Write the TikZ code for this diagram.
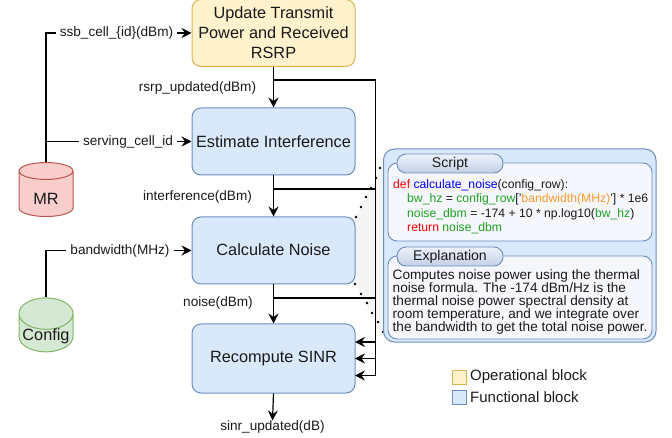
\documentclass[tikz,border=0pt]{standalone}
\usepackage{fontspec}
\setmainfont{Liberation Sans}
\usetikzlibrary{shapes.geometric,arrows.meta,calc}
\definecolor{opf}{HTML}{FFF2CC}\definecolor{opd}{HTML}{D6B656}
\definecolor{fnf}{HTML}{DAE8FC}\definecolor{fnd}{HTML}{6C8EBF}
\definecolor{codegreen}{HTML}{1FA01F}\definecolor{codeorange}{HTML}{FF9A2E}
\definecolor{innerf}{HTML}{F5F7FD}
\definecolor{txt}{HTML}{1A1A1A}
\definecolor{tabtop}{HTML}{EEF2FA}\definecolor{tabbot}{HTML}{C4CFE6}
\definecolor{mrf}{HTML}{F8CECC}\definecolor{mrd}{HTML}{B85450}
\definecolor{cff}{HTML}{D5E8D4}\definecolor{cfd}{HTML}{82B366}
\tikzset{
 x=1pt,y=-1pt,
 every node/.style={text=txt},
 block/.style={draw,rounded corners=9pt,line width=1pt,minimum width=163pt,minimum height=67pt,align=center,inner sep=0pt,font=\fontsize{16.3}{20}\selectfont},
 opblock/.style={block,fill=opf,draw=opd},
 fnblock/.style={block,fill=fnf,draw=fnd},
 store/.style={cylinder,shape border rotate=90,aspect=.667,draw,line width=1pt,minimum width=54pt,minimum height=54pt,inner sep=0pt,font=\fontsize{16.3}{18}\selectfont},
 lab/.style={font=\fontsize{13.6}{15}\selectfont,inner sep=0pt,inner xsep=4pt},
 flow/.style={line width=1.2pt,draw=black,-{Stealth[length=10pt,width=10pt,inset=3.5pt]}},
 wire/.style={line width=1.2pt,draw=black},
 panelbox/.style={draw=fnd,fill=fnf,line width=1pt,rounded corners=11pt},
 innerbox/.style={draw=fnd,fill=innerf,line width=.9pt,rounded corners=9pt},
 tabbox/.style={draw=fnd,line width=.9pt,rounded corners=9pt,top color=tabtop,bottom color=tabbot,align=center,font=\fontsize{14.1}{16}\selectfont},
 legendbox/.style={line width=1pt,minimum size=14pt,inner sep=0pt},
 legendtext/.style={anchor=west,inner sep=0pt,font=\fontsize{15}{17}\selectfont},
 bodytext/.style={anchor=north west,align=left,inner sep=0pt},
}
\begin{document}
\begin{tikzpicture}
\useasboundingbox (0,0) rectangle (672,438);
% callout wedge
\fill[black!4] (355,217) -- (383,165) -- (384,335) -- (355,284) -- cycle;
% blocks
\node[opblock] (update) at (273.5,33) {Update Transmit\\Power and Received\\RSRP};
\node[fnblock] (est) at (273.5,141.5) {Estimate Interference};
\node[fnblock] (noise) at (273.5,250.5) {\raisebox{1pt}{Calculate Noise}};
\node[fnblock,minimum height=69pt] (sinr) at (273.5,358.5) {Recompute SINR};
% stores
\node[store,fill=mrf,draw=mrd] (mr) at (46,194) {\smash{\raisebox{-11pt}{MR}}};
\node[store,fill=cff,draw=cfd] (config) at (46,333) {\smash{\raisebox{-8pt}{Config}}};
% labels
\node[lab] (ssb) at (116.5,33) {ssb\_cell\_\{id\}(dBm)};
\node[lab] (serv) at (128,141.5) {serving\_cell\_id};
\node[lab] (bw) at (120,250.5) {bandwidth(MHz)};
\node[lab] (rsrpl) at (197.5,87.5) {rsrp\_updated(dBm)};
\node[lab] (intl) at (197.5,196.5) {interference(dBm)};
\node[lab] (noisel) at (218,303) {noise(dBm)};
\node[lab] (sinrl) at (272.5,427) {sinr\_updated(dB)};
% input connectors
\coordinate (mrtop) at (mr.north);
\draw[wire] (mr.north) |- (ssb.west);
\draw[wire] (mrtop |- serv.west) -- (serv.west);
\draw[wire] (config.north) |- (bw.west);
\draw[flow] (ssb.east) -- (update.west |- ssb.east);
\draw[flow] (serv.east) -- (est.west |- serv.east);
\draw[flow] (bw.east) -- (noise.west |- bw.east);
% flow
\draw[flow] (update) -- (est);
\draw[flow] (est) -- (noise);
\draw[flow] (noise) -- (sinr);
\draw[flow] (sinr.south) -- (sinrl.north);
% bus
\coordinate (bus) at (375.5,0);
\coordinate (b1) at (273.5,80);
\coordinate (b2) at (273.5,189);
\coordinate (b3) at (273.5,298);
\coordinate (s1) at (355,375.5);
\coordinate (s2) at (355,358.5);
\coordinate (s3) at (355,342);
\draw[flow] (b1) -| (bus |- s1) -- (s1);
\draw[flow] (b2) -| (bus |- s2) -- (s2);
\draw[flow] (b3) -| (bus |- s3) -- (s3);
% callout dots
\foreach \a/\b in {356/217,361/207,366/197,371/188,376/178,380/168,355/284,361/294,367/303,372/313,378/322,383/332}
  \fill[black] (\a,\b) circle (1.3pt);
% panel
\draw[panelbox] (383.5,149) rectangle (656,342);
\draw[innerbox] (388,163) rectangle (652,241);
\draw[innerbox] (388,256) rectangle (652,339);
\node[tabbox,minimum width=106pt,minimum height=19pt,inner sep=0pt] (t1) at (450,163.5) {Script};
\node[tabbox,minimum width=106pt,minimum height=19pt,inner sep=0pt] (t2) at (450,256.5) {Explanation};
\node[bodytext,font=\fontsize{12.2}{14.5}\selectfont] (code) at (393,179) {%
\textcolor{red}{def} \textcolor{blue}{calculate\_noise}(config\_row):\\
\hspace{14pt}\textcolor{codegreen}{bw\_hz} = \textcolor{codegreen}{config\_row}['\textcolor{codeorange}{bandwidth(MHz)}'] * 1e6\\
\hspace{14pt}\textcolor{codegreen}{noise\_dbm} = -174 + 10 * np.log10(\textcolor{codegreen}{bw\_hz})\\
\hspace{14pt}\textcolor{red}{return} \textcolor{codegreen}{noise\_dbm}};
\node[bodytext,font=\fontsize{13.6}{13}\selectfont] (expl) at (392.5,269) {%
Computes noise power using the thermal\\
noise formula. The -174 dBm/Hz is the\\
thermal noise power spectral density at\\
room temperature, and we integrate over\\
the bandwidth to get the total noise power.};
% legend
\node[legendbox,draw=opd,fill=opf] (lg1) at (459,377) {};
\node[legendbox,draw=fnd,fill=fnf] (lg2) at (459,397) {};
\node[legendtext] (lt1) at (470,377) {Operational block};
\node[legendtext] (lt2) at (470,397) {Functional block};
\end{tikzpicture}
\end{document}
